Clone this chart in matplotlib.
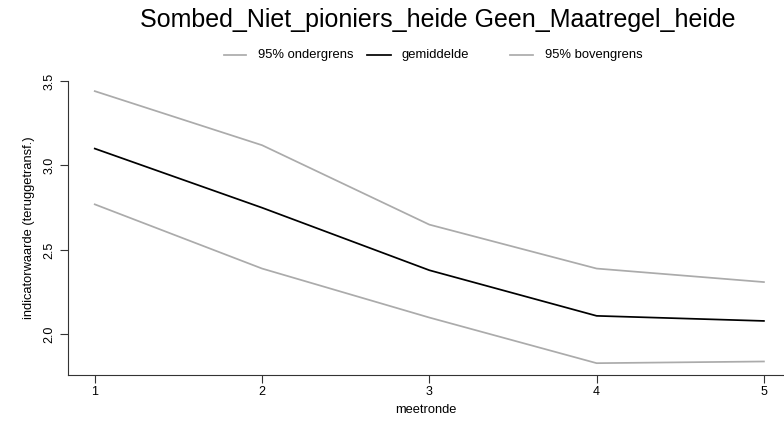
import numpy as np
import matplotlib
matplotlib.use('Agg')
import matplotlib.pyplot as plt
from matplotlib.lines import Line2D

plt.rcParams['font.family'] = ['Liberation Sans', 'DejaVu Sans']

meetronde = [1, 2, 3, 4, 5]
ondergrens = [2.77, 2.39, 2.10, 1.83, 1.84]
gemiddelde = [3.10, 2.75, 2.38, 2.11, 2.08]
bovengrens = [3.44, 3.12, 2.65, 2.39, 2.31]
yticks = [2.0, 2.5, 3.0, 3.5]
labels = ['95% ondergrens', 'gemiddelde', '95% bovengrens']

W, H = 784, 423
fig = plt.figure(figsize=(W / 100, H / 100), dpi=100)
ax = fig.add_axes([68 / W, 48 / H, 1 - 68 / W, 294 / H])

grey = '#ababab'
colors = [grey, 'black', grey]
for series, c in zip([ondergrens, gemiddelde, bovengrens], colors):
    ax.plot(meetronde, series, color=c, lw=1.25)

ax.set_xlim(0.84, 5.12)
ax.set_ylim(1.76, 3.5)
ax.set_xticks(meetronde)
ax.set_yticks(yticks)
ax.set_yticklabels([f'{v:.1f}' for v in yticks], rotation=90, va='center')
ax.tick_params(labelsize=9, length=6, width=0.8, color='#333333')
ax.tick_params(axis='x', pad=2)
ax.tick_params(axis='y', pad=3)

for s in ['top', 'right']:
    ax.spines[s].set_visible(False)
for s in ['left', 'bottom']:
    ax.spines[s].set_color('#333333')

ax.set_xlabel('meetronde', fontsize=9.3, labelpad=4)
ax.set_ylabel('indicatorwaarde (teruggetransf.)', fontsize=9.3, labelpad=6)

fig.text(438 / W, 1 - 20 / H, 'Sombed_Niet_pioniers_heide Geen_Maatregel_heide',
         fontsize=18, ha='center', va='center')

# legend row, laid out like the R legend
handle_x = [(224, 246), (367, 391), (510, 533)]
text_x = [258, 401, 545]
ly = 1 - 55 / H
for (x0, x1), tx, c, lab in zip(handle_x, text_x, colors, labels):
    fig.add_artist(Line2D([x0 / W, x1 / W], [ly, ly], color=c, lw=1.25,
                          transform=fig.transFigure))
    fig.text(tx / W, ly, lab, fontsize=9.4, ha='left', va='center')

fig.savefig('out.png', dpi=100)
